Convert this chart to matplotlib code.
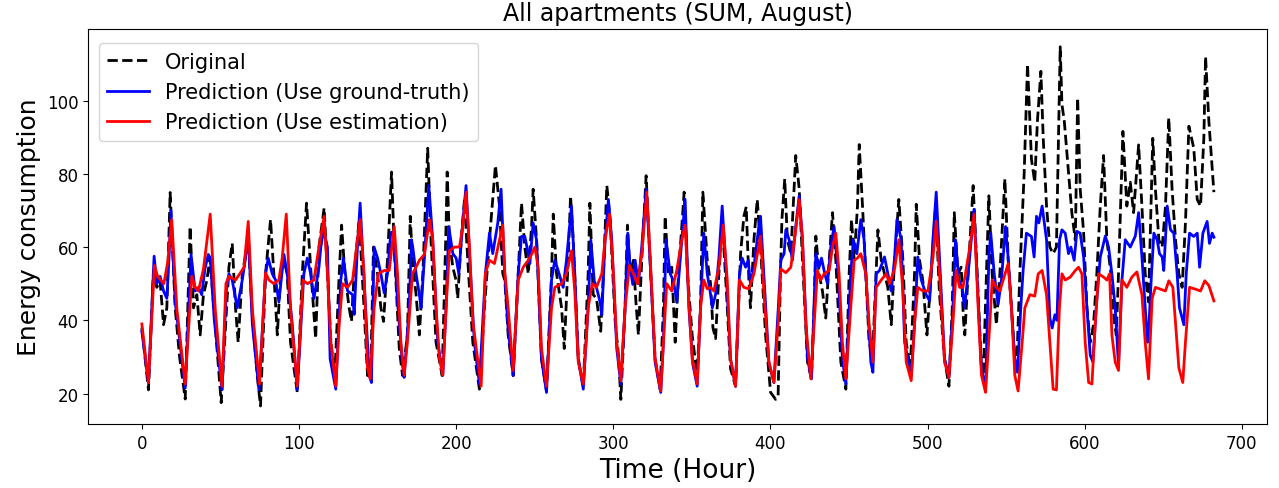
import matplotlib
matplotlib.use("Agg")
import matplotlib.pyplot as plt

# hours / values (key points of each curve)
orig_t = [0, 4.2, 7.4, 9.5, 11.6, 13.8, 15.9, 18, 21.2, 24, 27.6, 30.7, 32.9, 35, 37.1, 39.2, 41.3, 43.4, 45.5, 50.5, 53.5,
          55.4, 57.5, 59.6, 61.3, 63.9, 67.7, 70.3, 73.4, 75.5, 78.7, 81.9, 84, 86.2, 88.3, 90.4, 92.5, 94.6, 98.9, 102.1, 104.8, 107.4, 110.6, 112.7,
          116, 118.1, 120.3, 122.8, 125.6, 127.1, 129.2, 131.9, 133.4, 135.1, 138.3, 141.4, 143.6, 145.7, 147.4, 150, 152.1, 153.8, 156.3, 158.9, 160.6, 163.8, 165.9, 169, 170.8, 172.2,
          174.5, 176.6, 178.8, 181.9, 184, 187.2, 191.1, 193.6, 194.3, 195.7, 197.9, 200, 201, 203.2, 205.3, 207.4, 210.6, 214.8, 218, 221.2, 225, 227.6, 229.7,
          231, 233.1, 236.3, 239.5, 241.6, 243.7, 245.9, 248, 249, 251.2, 254.3, 257.5, 260.7, 261.8, 263.9, 267.1, 268.8, 271.3, 272.8, 274.5, 277.7, 280.9, 284, 285.1, 287.2, 289.3,
          292, 293.7, 295.9, 298, 301.2, 303.3, 304.8, 307.5, 309, 310.7, 312.8, 314.5, 316, 318.1, 320.9, 323.4, 326.6, 329.8, 331.9, 333, 335.1, 337.2, 339.4, 341.5, 345.1, 347.2,
          350.2, 352.3, 353.4, 355.5, 357, 359.8, 361.9, 363.4, 365.1, 367.2, 369.3, 371.9, 374.6, 377.8, 381, 383.1, 384.6, 386.3, 387.3, 389.5, 391.6, 393.7, 396.9, 400.1, 403.3, 404.9, 406.4,
          407.3, 409.1, 410.8, 413, 416.1, 418.3, 420.4, 423.6, 426.1, 427.8, 428.9, 431, 433.1, 435.2, 437.4, 439.5, 441.6, 444.8, 448, 450.1, 451.6, 453.3, 455.4, 456.5, 458.6, 460.7, 462.8,
          465, 468.4, 470.5, 472.6, 474.7, 476.9, 479, 481.7, 484.3, 486.4, 489, 491.7, 492.8, 494.9, 497, 499.6, 502.3, 505.1, 507.6, 510.8, 513.6, 515.7, 517, 519.3, 521.4, 522.9,
          523.7, 525.8, 529, 532.2, 534.3, 535.4, 537.5, 539, 541.1, 543.8, 546, 549.2, 551.3, 553.4, 555.5, 556.6, 558.7, 561.5, 563.6, 566.1, 568.2, 569.9, 572.1, 573.6, 575.7, 577.8, 579.9, 582,
          584.4, 585.5, 587, 589.7, 591.8, 594, 595.5, 597.1, 599.3, 601.4, 603.5, 605.6, 607.7, 609.9, 612, 614.1, 616.7, 618.8, 620.1, 621.5, 624.3, 626.8, 629, 631.1, 634.3, 636.4, 638.5, 640.6,
          641.5, 643.3, 645, 647.2, 649.3, 651.4, 653.5, 655.6, 657.8, 659.9, 662, 664.1, 666.3, 669.4, 671.6, 673.7, 675.8, 676.9, 679, 682.2]
orig_v = [38, 21, 53.6, 49, 50.8, 38.8, 43.4, 74.9, 43.4, 30, 18.5, 65.6, 43.4, 47, 36, 47, 50.8, 57, 45, 17.5, 40,
          54.5, 61, 43.4, 34, 52.7, 62, 41.6, 25, 16.6, 52.7, 67.5, 52.7, 36, 52.7, 56.4, 52.7, 34, 20.3, 52.7, 72, 54.5, 35, 60,
          70.7, 52.7, 34, 24.9, 52.7, 66, 52.7, 43.4, 39.7, 52.7, 67.5, 43.4, 24.9, 26.8, 60, 52.7, 43.4, 39.7, 56.4, 80.5, 60, 32.3, 24.9, 36, 68.4, 56.4,
          47, 36, 52.7, 87, 61.9, 34, 24.9, 66, 80.5, 61.9, 54.5, 50.8, 46, 61.9, 73, 56.4, 34, 21.2, 43.4, 61.9, 82.3, 71.2, 52.7,
          50.8, 36, 24.9, 52.7, 72, 60, 52.7, 65.6, 75.8, 61.9, 29.5, 20.7, 52.7, 69, 52.7, 43.4, 32.3, 56.4, 74, 61.9, 29.5, 22, 52.7, 72, 47, 46,
          37, 52.7, 76.8, 67.5, 39.7, 30.5, 18.4, 43.4, 66, 52.7, 56.4, 44.4, 36, 56.4, 79.5, 56.4, 29.5, 21.2, 43.4, 68.4, 52.7, 54.5, 34, 52.7, 75, 52.7,
          36, 28.6, 26, 43.4, 75, 56.4, 50, 38, 35, 52.7, 67.5, 48.6, 26.8, 22, 58.2, 68.4, 71, 50.8, 43.4, 61.9, 73, 60, 36, 20.3, 18.4, 19.4, 52.7,
          67.5, 78.6, 61.9, 58.2, 85, 76, 56.4, 28.6, 24, 43.4, 63, 52.7, 48, 40.6, 56.4, 69.4, 56.4, 28.6, 21.2, 52.7, 67.5, 56.4, 71.2, 88, 71.2, 52.7, 34,
          30, 64.7, 56.4, 52.7, 49, 38.8, 56.4, 73, 56.4, 34, 26.8, 52.7, 71.7, 56.4, 50.8, 36, 52.7, 71.2, 47, 29.5, 22, 43.4, 69.4, 52.7, 54.5, 39.7,
          36, 52.7, 76.8, 47, 26.7, 24, 52.7, 74, 52.7, 38.8, 52.7, 78.6, 56.4, 43.4, 29.5, 25.8, 52.7, 80.5, 110, 84, 77.7, 94.4, 108, 89.7, 71.2, 60, 58.2, 60,
          114.7, 99, 94.4, 80.5, 69.4, 61.9, 100.8, 76, 64, 43.4, 34, 38.8, 52.7, 71.2, 85, 61.9, 52.7, 39.7, 36, 52.7, 91.6, 71.2, 77.7, 69.4, 87.9, 71.2, 52.7, 45,
          60, 89.7, 75.8, 61.9, 60, 71.2, 95.3, 75.8, 61.9, 52.7, 49, 66.6, 93, 87, 73, 71.2, 89.7, 112, 94.4, 75]

gt_t = [0, 4.2, 7.8, 9.5, 11.6, 13.8, 15.9, 17.4, 18.5, 21.2, 27.6, 31.3, 33.9, 36, 38.1, 40.1, 42.3, 43.5, 46.1, 51, 53.7,
        55.4, 57.5, 60.7, 63.9, 66, 67.7, 70.3, 74.5, 78.7, 80.4, 83, 85.1, 87.2, 90.4, 92.5, 95.7, 98.9, 103.1, 105.3, 107.4, 109.5, 112.7,
        113.9, 115.6, 118.1, 119.8, 123.4, 126.6, 128.3, 130.9, 134.1, 135.1, 137.2, 138.9, 141.4, 144.7, 146.1, 147.8, 150, 152.1, 154.2, 156.3, 158.4, 160.1, 162.7, 165.9, 166.9, 170.1, 171.6,
        172.4, 174.5, 176.6, 177.7, 179.8, 182.6, 185.1, 188.3, 191.5, 193.6, 195.3, 197.9, 200, 201.7, 204.2, 206.3, 208.5, 211.6, 214.8, 218.6, 221.2, 223.3, 226.5, 228.6,
        230.7, 233.1, 236.3, 239.5, 241.6, 243.7, 245.9, 246.9, 249, 251.2, 254.3, 257.5, 260.7, 262.8, 264.9, 268.1, 270.2, 273.4, 275.5, 277.7, 280.9, 284, 285.7, 287.9, 289.3,
        291.6, 292.7, 294.8, 296.9, 299, 302.2, 304.8, 307.5, 309.2, 310.7, 312.4, 313.9, 316, 318.1, 320.9, 323.4, 326.6, 330.2, 331.9, 333.6, 336.2, 338.3, 340.4, 343.6, 345.7,
        348.1, 350.6, 353.4, 355.5, 357.6, 359.8, 361.9, 363, 365.1, 367.2, 369.3, 371.9, 374.6, 377.8, 380.3, 382, 384.2, 385.9, 387.3, 389.5, 392.6, 393.7, 395.8, 399, 402.2, 405,
        406.6, 408.7, 409.8, 411.9, 414, 416.1, 418.3, 420.4, 423.6, 426.1, 428.9, 431, 432.5, 434.6, 436.3, 438.4, 440.5, 443.1, 445.8, 448, 451.1, 452.8, 455, 457.5, 459.6, 461.3, 463.9,
        465.2, 467.3, 469.4, 472.6, 474.7, 476.9, 479, 480.5, 483.2, 485.4, 489.6, 491.7, 493.8, 496, 499.1, 501.3, 503.4, 505.5, 507.6, 510.8, 513.6, 516.1, 517.8, 519.9, 522, 523.5,
        525.8, 529.6, 532.2, 534.3, 536.9, 539, 540.2, 542.4, 544.9, 547, 549.6, 551.3, 553.4, 555.5, 557.2, 559.3, 560.8, 562.9, 566.1, 567.8, 569.3, 570.8, 572.9, 575.7, 577.8, 579.3, 581, 582.3,
        584, 585.5, 587.6, 589.7, 591.2, 593.3, 595, 597.1, 599.3, 601.4, 603.5, 605.2, 607.3, 609.9, 613.1, 615.2, 617.3, 619.4, 621.5, 623.7, 625.8, 629, 632.2, 634.3, 636.4, 638.5, 640,
        640.8, 642.5, 644, 646.1, 647.6, 649.3, 650.3, 652.5, 654.6, 656.7, 658.8, 660.3, 662, 663.1, 664.6, 666.7, 669.4, 671.6, 673.1, 675.2, 677.9, 679.4, 681.1, 682.2]
gt_v = [37, 23, 57.5, 50, 52, 48, 46, 58, 70, 45, 21.5, 58, 48, 49, 47, 54, 58, 57, 40, 21, 48,
        52.7, 51, 43.4, 51, 57, 64, 39, 21, 52.7, 57, 52.7, 51, 45, 58, 52.7, 39, 21, 52.7, 57, 52.7, 46, 54.5,
        60, 64.7, 60, 29.5, 21.2, 51, 57, 48, 47, 41.6, 60, 72, 51, 25, 23, 60, 57, 52.7, 47.5, 52.7, 64, 64, 45, 27.7, 24.4, 43.4, 62,
        60, 52.7, 47, 43.4, 57, 76.8, 62, 34, 25, 43.4, 65.6, 58.2, 57, 52.7, 66.6, 76.8, 58.2, 34, 22.6, 52.7, 63.8, 58.2, 66.6, 75.8,
        54, 37.5, 24.9, 52.7, 62.9, 62.9, 58.2, 55.5, 66.6, 61.9, 29.5, 20.3, 51, 56.4, 53.6, 49, 56.4, 71.2, 52.7, 29.5, 21.2, 43.4, 61.9, 50.8, 49,
        45, 41.5, 62, 73, 62, 32.3, 22.6, 43.4, 63.8, 54.5, 49.8, 56.4, 50, 60, 75.8, 56.4, 28.6, 20.3, 34, 62, 52.7, 50.8, 45, 62, 73,
        43.4, 28, 22, 43.4, 63.8, 52.7, 47.1, 43.4, 47.1, 57, 71.2, 52.7, 29.5, 22, 52.7, 57, 54.5, 56.4, 49.8, 54.5, 65.6, 68.4, 52.7, 28.6, 23, 43.4,
        56.4, 58.2, 64.7, 62, 56.4, 65.6, 74, 62, 29.5, 24, 58.2, 54.5, 57, 52.7, 50, 60, 65.6, 52.7, 29.5, 22.6, 52.7, 62, 58.2, 67.5, 62, 48, 28.6,
        25.8, 52.7, 53.6, 57.3, 52.7, 48, 57, 67.5, 62, 34, 24.9, 39, 57.3, 51, 47, 45.3, 62, 75, 57, 29.5, 24.4, 43.4, 62, 51, 49, 43.4,
        52.7, 70.3, 45.3, 26.7, 21.2, 57, 63.8, 52.7, 44.4, 51, 65.6, 57, 43.4, 29.5, 25.8, 43.4, 53.6, 63.8, 62.9, 57.3, 68.4, 66.6, 71.2, 62, 40.6, 37.9, 41.5, 40,
        62, 64.7, 63.8, 58.2, 60, 56.4, 64.3, 63.8, 57.3, 43.4, 30.5, 28.6, 43.4, 57.3, 63, 60, 52.7, 43.4, 27.7, 51, 62, 60, 63, 69.4, 57.3, 43.4, 34,
        38, 52.7, 63.8, 62, 58.2, 57.3, 53.6, 71.2, 64.7, 63.8, 52.7, 43.4, 40.6, 38.8, 52.7, 63.8, 62.9, 63.8, 54.5, 63.8, 67, 61, 63.8, 62.7]

est_t = [0, 4.2, 8, 10, 12, 14, 16.5, 19, 22.3, 27.6, 31.8, 34, 36, 39.2, 43.5, 46.7, 51, 53.5,
         55.4, 59.6, 62.8, 65, 67.7, 70.3, 74.9, 78.7, 80.9, 84, 87.2, 89.3, 91.9, 94.6, 98.9, 102.5, 105.3, 109.5, 112.7,
         116, 118.1, 120.3, 123.4, 125.6, 127.7, 130.9, 134.1, 137.2, 138.9, 141.4, 143.6, 145.3, 147.8, 150.4, 154.2, 157.4, 160.6, 162.7, 164.8, 166.9, 169, 172.2,
         174.5, 176.6, 179.8, 183, 185.1, 187.2, 189.4, 191.5, 193.6, 195.7, 198.9, 202.1, 204.2, 206.3, 208.5, 210.6, 215.9, 218.6, 221.2, 224.4, 227.1, 229.7,
         231, 233.1, 236.3, 239.5, 242.7, 245.9, 248, 250.1, 252.2, 254.3, 257.5, 260.7, 262.8, 267.1, 270.2, 273.4, 275.5, 277.7, 280.9, 284, 286.6, 289.3,
         292.7, 294.8, 297.6, 300.1, 302.2, 304.8, 307.5, 310.3, 312.8, 315.4, 318.1, 321.3, 323.4, 326.6, 330.2, 331.9, 334, 337.2, 340.4, 343.6, 345.7,
         348.1, 350.2, 353.4, 355.5, 357.6, 359.8, 361.9, 364, 367.2, 370, 372.5, 374.6, 377.8, 380.3, 383.1, 386.3, 389.5, 393.7, 395.8, 399, 402.2, 405,
         406.6, 409.8, 413, 416.1, 418.3, 420.4, 422.5, 425.7, 427.8, 429.9, 432, 434.2, 437.4, 439.5, 441.6, 443.7, 445.8, 448, 451.1, 453.3, 455.4, 457.5, 460.7, 462.8,
         465.2, 467.3, 470.5, 473.7, 475.8, 479, 481.7, 484.3, 486.4, 489.6, 491.7, 493.8, 497, 500.2, 503.4, 505.5, 507.6, 510.8, 513.6, 516.1, 518.2, 520.4, 522.5,
         523.7, 526.9, 529.6, 532.2, 534.3, 536.9, 539.6, 541.1, 543.9, 546, 548.1, 551.3, 553.4, 555.5, 557.6, 560.2, 561.9, 565.1, 568.2, 570.4, 572.9, 575.7, 577.8, 579.9, 582,
         583.9, 585.5, 587.6, 590.8, 594, 596.1, 598.2, 600.3, 602.5, 604.6, 606.7, 608.8, 612, 614.1, 615.8, 617.3, 619.4, 621.5, 623.7, 626.8, 630, 633.2, 636.4, 638.5, 640.6,
         642.9, 645, 648.2, 651.4, 653.5, 656.1, 657.8, 659.9, 662.4, 664.1, 666.7, 670.5, 673.7, 676.4, 679, 682.2]
est_v = [39, 23, 55, 52, 51, 50, 56, 67.5, 43, 22.6, 52, 49, 48, 54, 69, 43, 22, 50,
         52, 51, 53, 54.5, 67, 43, 22.6, 53, 51, 50, 51, 57, 69, 43, 22, 51, 50, 51, 60,
         68.4, 52.7, 34, 22, 39, 50, 49, 51, 62, 67.5, 52.7, 27, 24, 43.4, 52.7, 53.6, 53.6, 65.6, 52.7, 34, 25, 34, 52.7,
         54.5, 56.4, 58, 67.5, 62, 43.4, 29.5, 25, 43.4, 59, 60, 60, 65.6, 75, 60, 39.7, 22, 52.7, 56.4, 55.5, 61, 66,
         53, 43.4, 26.3, 51, 54.5, 56.4, 58, 60, 54.5, 32.3, 22, 43.4, 49, 50, 52.7, 59, 48, 28.6, 22.6, 43.4, 50, 49,
         52.7, 62, 69, 52.7, 34, 23.5, 43.4, 55, 52.7, 50, 58, 75, 58, 29.5, 20.7, 34, 50, 48, 53.6, 62, 66,
         45, 29.5, 22.6, 43.4, 51, 48.6, 49, 48, 54.5, 66, 51, 29.5, 22, 51, 49, 48.6, 52.7, 63, 48, 28.6, 23, 39.7,
         54, 53, 54.5, 64.7, 73, 62, 39, 24, 39, 53.6, 51, 52.7, 53.6, 60, 63.8, 52.7, 34, 24, 43.4, 56.4, 57, 58.2, 52.7, 39,
         28.6, 49, 51, 52.7, 50, 54, 62, 48, 28.6, 23.5, 39, 49, 48, 48, 57, 67, 52.7, 28.6, 24.4, 39, 53.6, 49, 49,
         51.7, 60, 69, 43.4, 25, 20.3, 39, 51, 49, 48, 51, 55.5, 43.4, 25, 20.7, 34, 43.4, 47, 46.6, 52.7, 53.6, 47, 34, 21.2, 21,
         43.4, 52.7, 51, 51.8, 53.6, 54.5, 52.7, 34, 23, 22.6, 39, 52.7, 51.8, 51, 52.7, 36, 28.6, 26.3, 51, 49, 51.8, 53.2, 47, 34, 24,
         46, 49, 48.5, 48, 50.8, 49, 39, 27, 23, 34, 49, 48.5, 48, 50.8, 49.5, 45.3]

fig = plt.figure(figsize=(12.79, 4.89), dpi=100)
ax = fig.add_axes([0.069, 0.131, 0.922, 0.808])

ax.plot(orig_t, orig_v, "k--", lw=2, label="Original")
ax.plot(gt_t, gt_v, color="blue", lw=2, label="Prediction (Use ground-truth)")
ax.plot(est_t, est_v, color="red", lw=2, label="Prediction (Use estimation)")

ax.set_title("All apartments (SUM, August)", fontsize=17)
ax.set_xlabel("Time (Hour)", fontsize=19)
ax.set_ylabel("Energy consumption", fontsize=18)
ax.tick_params(labelsize=12)
ax.legend(loc="upper left", bbox_to_anchor=(0.0, 0.99), fontsize=15)

fig.savefig("out.png", dpi=100)
